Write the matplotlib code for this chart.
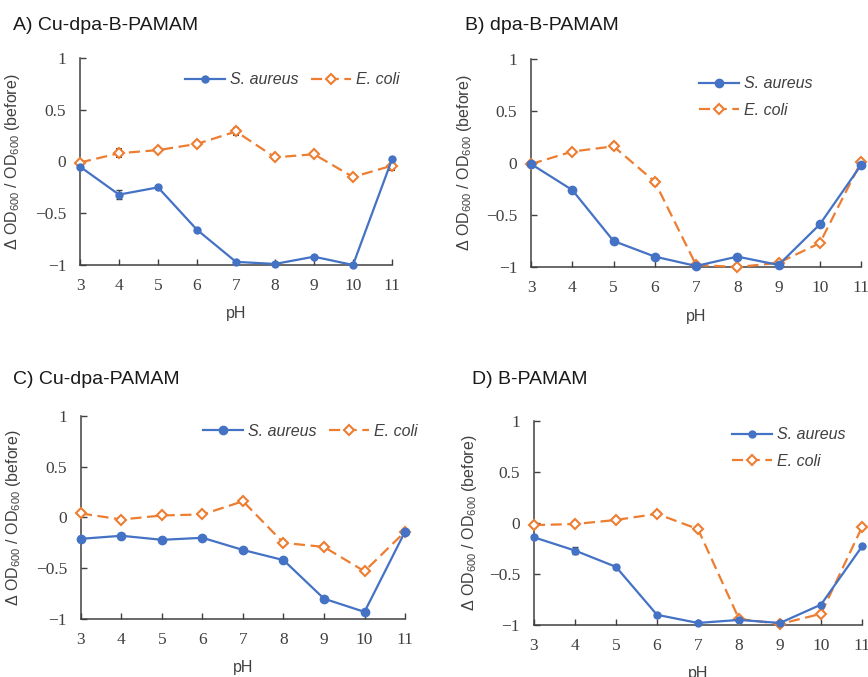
import numpy as np
import matplotlib
matplotlib.use("Agg")
import matplotlib.pyplot as plt

plt.rcParams['mathtext.fontset'] = 'custom'
plt.rcParams['mathtext.rm'] = 'Liberation Sans'
plt.rcParams['mathtext.default'] = 'rm'

# data
ph = [3, 4, 5, 6, 7, 8, 9, 10, 11]

a_sa = [-0.05, -0.32, -0.25, -0.66, -0.97, -0.99, -0.92, -1.0, 0.02]
a_sa_err = [0.0, 0.04, 0.0, 0.0, 0.0, 0.0, 0.0, 0.0, 0.0]
a_ec = [-0.01, 0.08, 0.11, 0.17, 0.29, 0.04, 0.07, -0.15, -0.04]
a_ec_err = [0.0, 0.04, 0.0, 0.0, 0.03, 0.0, 0.0, 0.0, 0.04]

b_sa = [-0.01, -0.26, -0.75, -0.9, -0.99, -0.9, -0.98, -0.59, -0.02]
b_sa_err = [0.0] * 9
b_ec = [-0.01, 0.11, 0.16, -0.18, -0.98, -1.0, -0.96, -0.77, 0.01]
b_ec_err = [0.0, 0.0, 0.03, 0.03, 0.0, 0.0, 0.0, 0.0, 0.0]

c_sa = [-0.21, -0.18, -0.22, -0.2, -0.32, -0.42, -0.8, -0.93, -0.14]
c_sa_err = [0.0] * 9
c_ec = [0.04, -0.02, 0.02, 0.03, 0.16, -0.25, -0.29, -0.53, -0.14]
c_ec_err = [0.0] * 9

d_sa = [-0.14, -0.27, -0.43, -0.9, -0.98, -0.95, -0.98, -0.8, -0.23]
d_sa_err = [0.0, 0.03, 0.02, 0.0, 0.0, 0.0, 0.0, 0.0, 0.0]
d_ec = [-0.02, -0.01, 0.03, 0.09, -0.06, -0.94, -0.99, -0.89, -0.04]
d_ec_err = [0.0] * 9

titles = ['A) Cu-dpa-B-PAMAM', 'B) dpa-B-PAMAM', 'C) Cu-dpa-PAMAM', 'D) B-PAMAM']
yticks = [-1, -0.5, 0, 0.5, 1]
ytick_labels = ['\u22121', '\u22120.5', '0', '0.5', '1']

blue = '#4472C4'
orange = '#ED7D31'
axcol = '#404040'

fig = plt.figure(figsize=(8.68, 6.77), dpi=100)

panels = [
    # rect, sa, sa_err, ec, ec_err, title pos, legend (x, y, ncol), ylabel x, sa marker size
    ([0.0922, 0.6086, 0.3594, 0.3057], a_sa, a_sa_err, a_ec, a_ec_err, (0.015, 0.963), (0.337, 0.894, 2), -0.186, 5.0),
    ([0.6118, 0.6056, 0.3802, 0.3073], b_sa, b_sa_err, b_ec, b_ec_err, (0.536, 0.963), (0.509, 0.817, 1), -0.173, 6.0),
    ([0.0933, 0.0857, 0.3733, 0.2998], c_sa, c_sa_err, c_ec, c_ec_err, (0.015, 0.439), (0.377, 0.926, 2), -0.179, 6.0),
    ([0.6152, 0.0768, 0.3779, 0.3013], d_sa, d_sa_err, d_ec, d_ec_err, (0.544, 0.439), (0.604, 0.868, 1), -0.168, 5.0),
]

for i, (rect, sa, sa_err, ec, ec_err, tpos, leg, ylx, ms) in enumerate(panels):
    ax = fig.add_axes(rect)
    ec_c = ax.errorbar(ph, ec, yerr=ec_err, color=orange, ls=(0, (5, 2.5)), lw=1.6,
                       marker='D', ms=5.2, mfc='white', mec=orange, mew=1.5,
                       ecolor=axcol, elinewidth=0.8, capsize=2.5,
                       clip_on=False, zorder=3)
    sa_c = ax.errorbar(ph, sa, yerr=sa_err, color=blue, lw=1.6,
                       marker='o', ms=ms, mfc=blue, mec=blue,
                       ecolor=axcol, elinewidth=0.8, capsize=2.5,
                       clip_on=False, zorder=4)
    ax.set_xlim(3, 11)
    ax.set_ylim(-1, 1)
    ax.set_xticks(ph)
    ax.set_xticklabels([str(p) for p in ph])
    ax.set_yticks(yticks)
    ax.set_yticklabels(ytick_labels)
    for lab in ax.get_xticklabels() + ax.get_yticklabels():
        lab.set_family('Liberation Serif')
        lab.set_fontsize(12.5)
        lab.set_color(axcol)
    ax.tick_params(axis='x', direction='in', length=4, width=1, color=axcol, pad=9.5)
    ax.tick_params(axis='y', direction='in', length=4, width=1, color=axcol, pad=10)
    ax.spines['top'].set_visible(False)
    ax.spines['right'].set_visible(False)
    for s in ['left', 'bottom']:
        ax.spines[s].set_color(axcol)
        ax.spines[s].set_linewidth(1.1)

    ax.set_xlabel('pH', family='Liberation Sans', fontsize=11.5, color=axcol)
    ax.xaxis.set_label_coords(0.5, -0.2)
    ax.set_ylabel('\u0394 OD$_{600}$ / OD$_{600}$ (before)', family='Liberation Sans',
                  fontsize=11.5, color=axcol)
    ax.yaxis.set_label_coords(ylx, 0.5)

    lg = ax.legend([sa_c.lines[0], ec_c.lines[0]], ['S. aureus', 'E. coli'],
                   loc='center left', bbox_to_anchor=(leg[0], leg[1]),
                   ncol=leg[2], frameon=False, borderpad=0, borderaxespad=0,
                   handlelength=2.5, handletextpad=0.3, columnspacing=0.8,
                   labelspacing=0.7, prop={'family': 'Liberation Sans', 'style': 'italic', 'size': 11.5})
    for t in lg.get_texts():
        t.set_color(axcol)

    fig.text(tpos[0], tpos[1], titles[i], family='Liberation Sans', fontsize=14,
             va='center', ha='left', color='#1a1a1a')

fig.savefig('out.png', dpi=100)
